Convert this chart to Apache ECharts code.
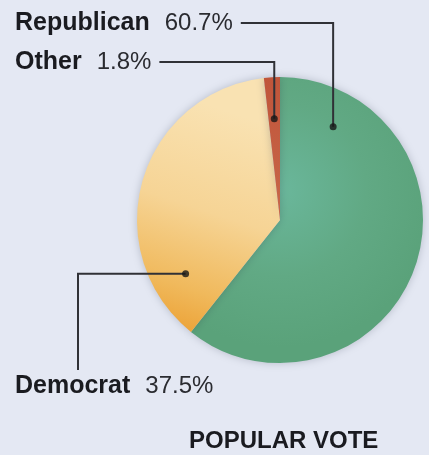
<!DOCTYPE html>
<html>
<head>
<meta charset="utf-8">
<style>
  html, body { margin: 0; padding: 0; background: #e4e8f3; }
  #chart { width: 429px; height: 455px; }
</style>
<script src="https://cdn.jsdelivr.net/npm/echarts@6/dist/echarts.min.js"></script>
</head>
<body>
<div id="chart"></div>
<script>
// Popular vote shares (percent)
const parties = ['Republican', 'Democrat', 'Other'];
const shares = [60.7, 37.5, 1.8];
const chartTitle = 'POPULAR VOTE';

// Leader-line anchor inside each slice: [radius fraction, position along the circle in percent]
const anchors = [[0.75, 8.25], [0.76, 66.75], [0.71, 99.1]];

// Geometry and label placement
const CX = 280, CY = 220, R = 143;
const labelSpots = [
  { x: 15, y: 23 },   // Republican
  { x: 15, y: 386 },  // Democrat
  { x: 15, y: 62 }    // Other
];
const democratRiserX = 78;

const FONT = '"Liberation Sans", Arial, sans-serif';
const INK = '#1a1b20';
const LINE = '#303136';

function anchorPixel(i) {
  const [f, pct] = anchors[i];
  const t = pct / 100 * Math.PI * 2;
  return [CX + R * f * Math.sin(t), CY - R * f * Math.cos(t)];
}

const colors = [
  { type: 'radial', x: CX, y: CY - 30, r: R * 1.1, global: true,
    colorStops: [{ offset: 0, color: '#6ab79b' }, { offset: 0.55, color: '#61a984' }, { offset: 1, color: '#5aa27a' }] },
  { type: 'linear', x: 255, y: 120, x2: 185, y2: 335, global: true,
    colorStops: [{ offset: 0, color: '#f9e2b2' }, { offset: 0.45, color: '#f6d495' }, { offset: 0.8, color: '#f0b95c' }, { offset: 1, color: '#eca236' }] },
  { type: 'linear', x: 0, y: 0, x2: 0, y2: 1,
    colorStops: [{ offset: 0, color: '#c0553a' }, { offset: 1, color: '#c8674a' }] }
];

const sliceData = parties.map((p, i) => ({ name: p, value: shares[i] }));

const chart = echarts.init(document.getElementById('chart'));

chart.setOption({
  backgroundColor: '#e4e8f3',
  animation: false,
  title: {
    text: chartTitle,
    left: 184, top: 424,
    textStyle: { fontFamily: FONT, fontWeight: 'bold', fontSize: 24, color: INK }
  },
  polar: { center: [CX, CY], radius: R },
  angleAxis: { type: 'value', min: 0, max: 100, startAngle: 90, clockwise: true, show: false },
  radiusAxis: { type: 'value', min: 0, max: 1, show: false },
  series: [
    {
      // the filled slices
      type: 'pie',
      center: [CX, CY],
      radius: [0, R],
      startAngle: 90,
      clockwise: true,
      silent: true,
      z: 1,
      data: sliceData.map((d, i) => ({ ...d, itemStyle: { color: colors[i] } })),
      itemStyle: { shadowBlur: 8, shadowColor: 'rgba(40,50,70,0.25)' },
      label: { show: false },
      labelLine: { show: false }
    },
    {
      // same slices, invisible, carrying the labels and leader lines on top
      type: 'pie',
      center: [CX, CY],
      radius: [0, R],
      startAngle: 90,
      clockwise: true,
      avoidLabelOverlap: false,
      silent: true,
      z: 4,
      data: sliceData,
      itemStyle: { color: 'rgba(0,0,0,0)' },
      label: {
        show: true,
        formatter: '{n|{b}}{v|{c}%}',
        rich: {
          n: { fontFamily: FONT, fontWeight: 'bold', fontSize: 25, color: INK },
          v: { fontFamily: FONT, fontSize: 24, color: '#2a2b30', padding: [0, 0, 0, 15] }
        }
      },
      labelLine: {
        show: true,
        lineStyle: { color: LINE, width: 2 }
      },
      labelLayout: function (params) {
        const i = params.dataIndex;
        const spot = labelSpots[i];
        const dot = anchorPixel(i);
        let pts;
        if (parties[i] === 'Democrat') {
          pts = [dot, [democratRiserX, dot[1]], [democratRiserX, spot.y - 16]];
        } else {
          const endX = spot.x + params.labelRect.width + 8;
          pts = [dot, [dot[0], spot.y], [endX, spot.y]];
        }
        return {
          x: spot.x,
          y: spot.y,
          align: 'left',
          verticalAlign: 'middle',
          labelLinePoints: pts
        };
      }
    },
    {
      type: 'scatter',
      coordinateSystem: 'polar',
      symbol: 'circle',
      symbolSize: 7,
      silent: true,
      z: 5,
      itemStyle: { color: '#161616' },
      data: anchors.map(a => [a[0], a[1]])
    }
  ]
});
</script>
</body>
</html>
